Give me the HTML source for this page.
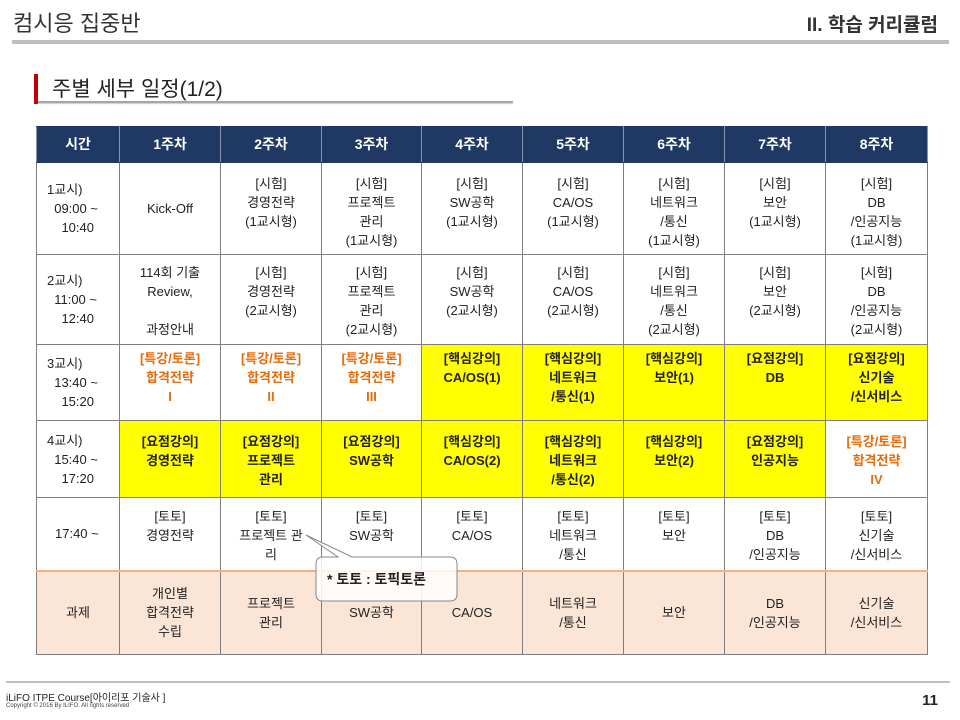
<!DOCTYPE html>
<html><head><meta charset="utf-8"><style>
*{margin:0;padding:0;box-sizing:border-box}
body{width:960px;height:720px;background:#fff;position:relative;overflow:hidden;font-family:"Liberation Sans","Noto Sans CJK KR",sans-serif;color:#222}
.abs{position:absolute}
table{position:absolute;left:36px;top:126px;border-collapse:collapse;table-layout:fixed;font-size:13px;line-height:19px}
td{border:1px solid #7f7f7f;text-align:center;vertical-align:top;padding:0 2px}
tr.h td{background:#1f3864;color:#fff;font-weight:bold;font-size:14px;vertical-align:middle;border-color:#1f3864 #8a94a8}
.y{background:#ffff00;font-weight:bold}
.o{color:#e46c0a;font-weight:bold}
td.t{text-align:left;vertical-align:middle;padding-left:10px}
tr.p td{background:#fbe5d6;vertical-align:middle;border-top:2px solid #f4b183}
</style></head><body>
<div class="abs" style="left:13px;top:6px;font-size:22px;color:#333">컴시응 집중반</div>
<div class="abs" style="right:22px;top:10px;font-size:19px;color:#333;font-weight:bold">II. 학습 커리큘럼</div>
<div class="abs" style="left:12px;top:40px;width:937px;height:4px;background:#bfbfbf"></div>
<div class="abs" style="left:34px;top:74px;width:4px;height:30px;background:#c00000"></div>
<div class="abs" style="left:52px;top:73px;font-size:21px;color:#222">주별 세부 일정(1/2)</div>
<div class="abs" style="left:38px;top:101px;width:475px;height:2px;background:#a6a6a6;box-shadow:0 1px 1px #ccc"></div>
<table>
<colgroup><col style="width:83px"><col style="width:101px"><col style="width:101px"><col style="width:100px"><col style="width:101px"><col style="width:101px"><col style="width:101px"><col style="width:101px"><col style="width:102px"></colgroup>
<tr class="h" style="height:36px"><td>시간</td><td>1주차</td><td>2주차</td><td>3주차</td><td>4주차</td><td>5주차</td><td>6주차</td><td>7주차</td><td>8주차</td></tr>
<tr style="height:92px"><td class="t">1교시)<br>&nbsp;&nbsp;09:00 ~<br>&nbsp;&nbsp;&nbsp;&nbsp;10:40</td><td style="vertical-align:middle">Kick-Off</td>
<td style="padding-top:11px">[시험]<br>경영전략<br>(1교시형)</td><td style="padding-top:11px">[시험]<br>프로젝트<br>관리<br>(1교시형)</td><td style="padding-top:11px">[시험]<br>SW공학<br>(1교시형)</td><td style="padding-top:11px">[시험]<br>CA/OS<br>(1교시형)</td><td style="padding-top:11px">[시험]<br>네트워크<br>/통신<br>(1교시형)</td><td style="padding-top:11px">[시험]<br>보안<br>(1교시형)</td><td style="padding-top:11px">[시험]<br>DB<br>/인공지능<br>(1교시형)</td></tr>
<tr style="height:90px"><td class="t">2교시)<br>&nbsp;&nbsp;11:00 ~<br>&nbsp;&nbsp;&nbsp;&nbsp;12:40</td><td style="padding-top:8px">114회 기출<br>Review,<br><br>과정안내</td>
<td style="padding-top:8px">[시험]<br>경영전략<br>(2교시형)</td><td style="padding-top:8px">[시험]<br>프로젝트<br>관리<br>(2교시형)</td><td style="padding-top:8px">[시험]<br>SW공학<br>(2교시형)</td><td style="padding-top:8px">[시험]<br>CA/OS<br>(2교시형)</td><td style="padding-top:8px">[시험]<br>네트워크<br>/통신<br>(2교시형)</td><td style="padding-top:8px">[시험]<br>보안<br>(2교시형)</td><td style="padding-top:8px">[시험]<br>DB<br>/인공지능<br>(2교시형)</td></tr>
<tr style="height:76px"><td class="t">3교시)<br>&nbsp;&nbsp;13:40 ~<br>&nbsp;&nbsp;&nbsp;&nbsp;15:20</td>
<td class="o" style="padding-top:4px">[특강/토론]<br>합격전략<br>I</td><td class="o" style="padding-top:4px">[특강/토론]<br>합격전략<br>II</td><td class="o" style="padding-top:4px">[특강/토론]<br>합격전략<br>III</td>
<td class="y" style="padding-top:4px">[핵심강의]<br>CA/OS(1)</td><td class="y" style="padding-top:4px">[핵심강의]<br>네트워크<br>/통신(1)</td><td class="y" style="padding-top:4px">[핵심강의]<br>보안(1)</td><td class="y" style="padding-top:4px">[요점강의]<br>DB</td><td class="y" style="padding-top:4px">[요점강의]<br>신기술<br>/신서비스</td></tr>
<tr style="height:77px"><td class="t">4교시)<br>&nbsp;&nbsp;15:40 ~<br>&nbsp;&nbsp;&nbsp;&nbsp;17:20</td>
<td class="y" style="padding-top:11px">[요점강의]<br>경영전략</td><td class="y" style="padding-top:11px">[요점강의]<br>프로젝트<br>관리</td><td class="y" style="padding-top:11px">[요점강의]<br>SW공학</td><td class="y" style="padding-top:11px">[핵심강의]<br>CA/OS(2)</td><td class="y" style="padding-top:11px">[핵심강의]<br>네트워크<br>/통신(2)</td><td class="y" style="padding-top:11px">[핵심강의]<br>보안(2)</td><td class="y" style="padding-top:11px">[요점강의]<br>인공지능</td><td class="o" style="padding-top:11px">[특강/토론]<br>합격전략<br>IV</td></tr>
<tr style="height:73px"><td class="t" style="padding-left:18px">17:40 ~</td>
<td style="padding-top:9px">[토토]<br>경영전략</td><td style="padding-top:9px">[토토]<br>프로젝트 관<br>리</td><td style="padding-top:9px">[토토]<br>SW공학</td><td style="padding-top:9px">[토토]<br>CA/OS</td><td style="padding-top:9px">[토토]<br>네트워크<br>/통신</td><td style="padding-top:9px">[토토]<br>보안</td><td style="padding-top:9px">[토토]<br>DB<br>/인공지능</td><td style="padding-top:9px">[토토]<br>신기술<br>/신서비스</td></tr>
<tr class="p" style="height:84px"><td>과제</td><td>개인별<br>합격전략<br>수립</td><td>프로젝트<br>관리</td><td>SW공학</td><td>CA/OS</td><td>네트워크<br>/통신</td><td>보안</td><td>DB<br>/인공지능</td><td>신기술<br>/신서비스</td></tr>
</table>
<svg class="abs" style="left:0;top:0" width="960" height="720">
<path d="M323,557 L338,557 L306,535 L352,557 L450,557 Q457,557 457,564 L457,594 Q457,601 450,601 L323,601 Q316,601 316,594 L316,564 Q316,557 323,557 Z" fill="#fff" fill-opacity="0.85" stroke="#888" stroke-width="1"/>
<text x="327" y="584" font-size="14" font-weight="bold" fill="#222" font-family="Liberation Sans, Noto Sans CJK KR, sans-serif">* 토토 : 토픽토론</text>
</svg>
<div class="abs" style="left:6px;top:681px;width:944px;height:2px;background:#bfbfbf"></div>
<div class="abs" style="left:6px;top:689px;font-size:10px;color:#222">iLiFO ITPE Course[아이리포 기술사 ]</div>
<div class="abs" style="left:6px;top:703px;font-size:6px;color:#444">Copyright © 2016 By ILIFO. All rights reserved</div>
<div class="abs" style="right:22px;top:692px;font-size:15px;font-weight:bold;color:#222">11</div>
</body></html>
